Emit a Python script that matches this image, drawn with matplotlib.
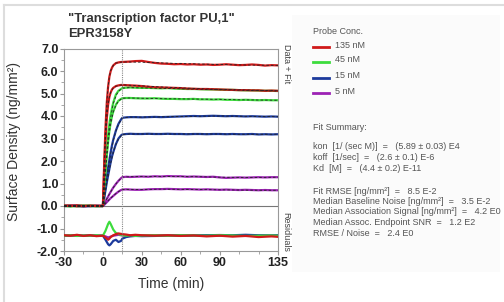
import numpy as np
import matplotlib
matplotlib.use('Agg')
import matplotlib.pyplot as plt
from matplotlib.lines import Line2D
from matplotlib.patches import Rectangle
from matplotlib.ticker import MultipleLocator, FormatStrFormatter

# sensorgram data, time in min, surface density in ng/mm2
t_data = [-30, -25, -20, -15, -10, -5, 0, 1, 2, 3, 4, 5, 6, 7, 8, 10, 12, 14, 15, 18, 21, 25,
          30, 35, 40, 45, 50, 55, 60, 65, 70, 75, 80, 85, 90, 95, 100, 105, 110, 115, 120, 125, 130, 135]

red_a = [0.02, 0.0, 0.03, -0.01, 0.01, 0.0, 0.0, 1.9, 3.5, 4.6, 5.3, 5.75, 6.0, 6.15, 6.25, 6.35, 6.38, 6.4, 6.4,
         6.41, 6.42, 6.44, 6.45, 6.4, 6.36, 6.33, 6.32, 6.3, 6.31, 6.29, 6.3, 6.28, 6.29, 6.27, 6.28, 6.3, 6.28,
         6.26, 6.27, 6.29, 6.27, 6.24, 6.26, 6.25]
red_b = [0.0, 0.02, -0.01, 0.01, 0.0, 0.01, 0.0, 1.6, 2.95, 3.9, 4.5, 4.85, 5.05, 5.18, 5.25, 5.33, 5.36, 5.38, 5.38,
         5.37, 5.36, 5.35, 5.33, 5.3, 5.28, 5.27, 5.26, 5.25, 5.24, 5.22, 5.21, 5.2, 5.2, 5.19, 5.18, 5.17, 5.16,
         5.15, 5.15, 5.14, 5.14, 5.12, 5.13, 5.12]
green_a = [0.0, -0.02, 0.01, 0.02, 0.0, -0.01, 0.0, 0.9, 1.75, 2.5, 3.15, 3.65, 4.05, 4.35, 4.6, 4.95, 5.12, 5.2, 5.24,
           5.26, 5.27, 5.26, 5.25, 5.25, 5.24, 5.23, 5.24, 5.22, 5.21, 5.2, 5.2, 5.19, 5.18, 5.18, 5.17, 5.16, 5.16,
           5.15, 5.14, 5.14, 5.13, 5.12, 5.12, 5.11]
green_b = [0.01, 0.0, -0.01, 0.0, 0.02, 0.0, 0.0, 0.8, 1.55, 2.25, 2.85, 3.35, 3.7, 4.0, 4.2, 4.5, 4.68, 4.76, 4.79,
           4.8, 4.8, 4.79, 4.78, 4.78, 4.79, 4.77, 4.76, 4.76, 4.75, 4.75, 4.76, 4.74, 4.74, 4.73, 4.74, 4.72, 4.72,
           4.71, 4.72, 4.71, 4.7, 4.71, 4.7, 4.7]
blue_a = [0.0, 0.01, 0.0, -0.02, 0.01, 0.0, 0.0, 0.45, 0.9, 1.3, 1.7, 2.05, 2.4, 2.7, 2.95, 3.35, 3.65, 3.85, 3.92,
          3.94, 3.95, 3.95, 3.94, 3.95, 3.96, 3.95, 3.96, 3.97, 3.98, 3.99, 4.0, 3.99, 4.0, 4.01, 4.0, 3.99, 4.0,
          3.99, 3.98, 3.99, 3.98, 3.97, 3.98, 3.97]
blue_b = [0.01, 0.0, 0.02, 0.0, -0.01, 0.0, 0.0, 0.35, 0.7, 1.05, 1.35, 1.65, 1.95, 2.2, 2.4, 2.75, 3.0, 3.14, 3.18,
          3.2, 3.21, 3.2, 3.2, 3.21, 3.2, 3.2, 3.21, 3.2, 3.2, 3.19, 3.2, 3.2, 3.19, 3.2, 3.2, 3.19, 3.2,
          3.19, 3.19, 3.2, 3.18, 3.19, 3.18, 3.19]
purple_a = [0.0, 0.0, 0.01, 0.0, 0.0, 0.01, 0.0, 0.1, 0.2, 0.32, 0.42, 0.53, 0.63, 0.73, 0.82, 0.98, 1.12, 1.24, 1.28,
            1.3, 1.29, 1.3, 1.31, 1.3, 1.32, 1.31, 1.33, 1.32, 1.32, 1.3, 1.31, 1.3, 1.29, 1.3, 1.27, 1.25, 1.26,
            1.27, 1.26, 1.27, 1.28, 1.27, 1.28, 1.28]
purple_b = [0.0, 0.01, 0.0, 0.0, 0.01, 0.0, 0.0, 0.05, 0.11, 0.17, 0.23, 0.29, 0.35, 0.4, 0.45, 0.55, 0.64, 0.71, 0.73,
            0.74, 0.73, 0.72, 0.72, 0.74, 0.75, 0.75, 0.76, 0.75, 0.74, 0.75, 0.74, 0.73, 0.74, 0.73, 0.72, 0.73, 0.72,
            0.71, 0.72, 0.71, 0.7, 0.71, 0.7, 0.7]

# global 1:1 fit curves
t_fit = [-30, 0, 1, 2, 3, 4, 5, 6, 8, 10, 12, 15, 20, 30, 45, 60, 75, 90, 105, 120, 135]
fit_red_a = [0, 0, 1.95, 3.5, 4.6, 5.3, 5.75, 6.02, 6.25, 6.35, 6.38, 6.4, 6.4, 6.39, 6.36, 6.33, 6.31, 6.29, 6.27, 6.26, 6.25]
fit_red_b = [0, 0, 1.6, 2.95, 3.9, 4.5, 4.85, 5.05, 5.25, 5.32, 5.36, 5.38, 5.37, 5.34, 5.29, 5.25, 5.21, 5.18, 5.16, 5.14, 5.12]
fit_green_a = [0, 0, 0.85, 1.65, 2.4, 3.05, 3.55, 3.95, 4.55, 4.9, 5.1, 5.24, 5.26, 5.25, 5.23, 5.21, 5.19, 5.17, 5.15, 5.13, 5.11]
fit_green_b = [0, 0, 0.75, 1.48, 2.15, 2.75, 3.25, 3.65, 4.18, 4.48, 4.66, 4.79, 4.8, 4.79, 4.77, 4.76, 4.75, 4.74, 4.72, 4.71, 4.7]
fit_blue_a = [0, 0, 0.42, 0.85, 1.25, 1.63, 2.0, 2.33, 2.9, 3.33, 3.63, 3.92, 3.95, 3.95, 3.96, 3.98, 3.99, 4.0, 3.99, 3.98, 3.97]
fit_blue_b = [0, 0, 0.34, 0.68, 1.0, 1.32, 1.62, 1.9, 2.38, 2.73, 2.98, 3.18, 3.2, 3.2, 3.2, 3.2, 3.2, 3.2, 3.19, 3.19, 3.19]
fit_purple_a = [0, 0, 0.1, 0.21, 0.32, 0.43, 0.53, 0.63, 0.82, 0.98, 1.12, 1.28, 1.3, 1.31, 1.31, 1.31, 1.3, 1.28, 1.27, 1.27, 1.28]
fit_purple_b = [0, 0, 0.05, 0.11, 0.17, 0.23, 0.29, 0.35, 0.45, 0.55, 0.64, 0.73, 0.74, 0.73, 0.75, 0.74, 0.73, 0.72, 0.71, 0.7, 0.7]

# residuals, drawn with an offset below the sensorgrams
t_res = [-30, -25, -20, -15, -10, -5, 0, 2, 4, 5, 6, 8, 10, 12, 14, 15, 18, 21, 25, 30,
         40, 50, 60, 70, 80, 90, 100, 110, 120, 130, 135]
res_red = [-1.3, -1.32, -1.28, -1.33, -1.3, -1.34, -1.32, -1.4, -1.5, -1.45, -1.38, -1.3, -1.25, -1.22, -1.24, -1.25,
           -1.27, -1.3, -1.28, -1.3, -1.32, -1.3, -1.33, -1.31, -1.35, -1.32, -1.36, -1.33, -1.38, -1.35, -1.37]
res_green = [-1.32, -1.3, -1.33, -1.31, -1.32, -1.3, -1.32, -1.1, -0.8, -0.7, -0.8, -1.05, -1.2, -1.25, -1.28, -1.3,
             -1.32, -1.3, -1.33, -1.31, -1.3, -1.32, -1.3, -1.31, -1.32, -1.3, -1.31, -1.33, -1.32, -1.31, -1.32]
res_blue = [-1.33, -1.31, -1.3, -1.32, -1.31, -1.33, -1.32, -1.5, -1.7, -1.75, -1.7, -1.55, -1.5, -1.6, -1.55, -1.45,
            -1.38, -1.35, -1.33, -1.34, -1.33, -1.32, -1.3, -1.31, -1.3, -1.29, -1.3, -1.28, -1.3, -1.31, -1.3]
res_purple = [-1.32, -1.31, -1.33, -1.32, -1.3, -1.31, -1.32, -1.35, -1.4, -1.38, -1.36, -1.32, -1.3, -1.28, -1.3, -1.31,
              -1.32, -1.31, -1.3, -1.32, -1.31, -1.3, -1.32, -1.31, -1.3, -1.32, -1.31, -1.3, -1.32, -1.31, -1.32]

conc_labels = ['135 nM', '45 nM', '15 nM', '5 nM']
colors = ['#d01a1a', '#3ddc3d', '#1c3a9c', '#9c22b4']

summary_lines = [
    'kon  [1/ (sec M)]  =   (5.89 \u00b1 0.03) E4',
    'koff  [1/sec]  =   (2.6 \u00b1 0.1) E-6',
    'Kd  [M]  =   (4.4 \u00b1 0.2) E-11',
    '',
    'Fit RMSE [ng/mm\u00b2]  =   8.5 E-2',
    'Median Baseline Noise [ng/mm\u00b2]  =   3.5 E-2',
    'Median Association Signal [ng/mm\u00b2]  =   4.2 E0',
    'Median Assoc. Endpoint SNR  =   1.2 E2',
    'RMSE / Noise  =   2.4 E0',
]

plt.rcParams['font.family'] = ['Liberation Sans', 'DejaVu Sans']
plt.rcParams['axes.unicode_minus'] = False

fig = plt.figure(figsize=(5.04, 3.02), dpi=100)
W, H = 504.0, 302.0

def fx(px):
    return px / W

def fy(py):
    return 1 - py / H

# outer frame and light summary panel
fig.add_artist(Line2D([fx(4), fx(504)], [fy(5), fy(5)], color='#dddddd', lw=1.5))
fig.add_artist(Line2D([fx(4), fx(4)], [fy(5), fy(302)], color='#dddddd', lw=1.5))
fig.add_artist(Rectangle((fx(292), fy(272)), fx(500) - fx(292), fy(15) - fy(272),
                         facecolor='#fbfbfb', edgecolor='none'))

ax = fig.add_axes([fx(64), fy(251), fx(278) - fx(64), fy(48.5) - fy(251)])

data_pairs = [(red_a, red_b), (green_a, green_b), (blue_a, blue_b), (purple_a, purple_b)]
fit_pairs = [(fit_red_a, fit_red_b), (fit_green_a, fit_green_b), (fit_blue_a, fit_blue_b),
             (fit_purple_a, fit_purple_b)]
res_list = [res_red, res_green, res_blue, res_purple]

# draw lowest concentration first so red ends on top
for i in [3, 2, 1, 0]:
    for y in data_pairs[i]:
        ax.plot(t_data, y, color=colors[i], lw=1.6, zorder=3 + (3 - i) * 0.1)
    for y in fit_pairs[i]:
        ax.plot(t_fit, y, color='#222222', lw=0.6, ls=(0, (3, 2.5)), zorder=4)
for i in [3, 2, 1, 0]:
    ax.plot(t_res, res_list[i], color=colors[i], lw=1.6, zorder=3)

ax.axhline(0, color='#777777', lw=0.8, zorder=2)
ax.axvline(15, color='#888888', lw=0.8, ls=(0, (1, 1)), zorder=5)

ax.set_xlim(-30, 135)
ax.set_ylim(-2, 7)
ax.set_xticks([-30, 0, 30, 60, 90, 135])
ax.set_yticks(np.arange(-2, 8, 1))
ax.yaxis.set_major_formatter(FormatStrFormatter('%.1f'))
ax.xaxis.set_minor_locator(MultipleLocator(15))
ax.yaxis.set_minor_locator(MultipleLocator(0.5))
ax.tick_params(which='both', direction='out', color='#999999')
ax.tick_params(which='major', length=3, labelsize=9, pad=1, labelcolor='#222222')
ax.tick_params(which='minor', length=2)
for lab in ax.get_xticklabels() + ax.get_yticklabels():
    lab.set_fontweight('bold')
for sp in ax.spines.values():
    sp.set_color('#999999')
    sp.set_linewidth(0.8)

ax.set_xlabel('Time (min)', fontsize=10, color='#333333', labelpad=6)
ax.set_ylabel('Surface Density (ng/mm\u00b2)', fontsize=10, color='#333333', labelpad=4)
ax.yaxis.set_label_coords(-0.2, 0.54)

# side labels for the two panels
fig.text(fx(286), fy(64), 'Data + Fit', rotation=270, ha='center', va='center', fontsize=6.5, color='#444444')
fig.text(fx(286), fy(232), 'Residuals', rotation=270, ha='center', va='center', fontsize=6.5, color='#444444')

fig.text(fx(68), fy(22), '"Transcription factor PU,1"', fontsize=9.4, fontweight='bold', color='#333333',
         ha='left', va='baseline')
fig.text(fx(68), fy(37), 'EPR3158Y', fontsize=9.4, fontweight='bold', color='#333333', ha='left', va='baseline')

# legend
fig.text(fx(313), fy(31), 'Probe Conc.', fontsize=6.5, color='#555555', ha='left', va='center')
leg_y = [45, 60, 76, 91]
for lab, c, py in zip(conc_labels, colors, leg_y):
    fig.add_artist(Line2D([fx(313), fx(329)], [fy(py + 2), fy(py + 2)], color=c, lw=2))
    fig.text(fx(335), fy(py), lab, fontsize=6.5, color='#555555', ha='left', va='center')

fig.text(fx(313), fy(127), 'Fit Summary:', fontsize=6.5, color='#555555', ha='left', va='center')
for k, line in enumerate(summary_lines):
    py = 147 + k * 10.7 if k < 3 else 191 + (k - 4) * 10.5
    if line:
        fig.text(fx(313), fy(py), line, fontsize=6.5, color='#555555', ha='left', va='center')

fig.savefig('out.png', dpi=100)
